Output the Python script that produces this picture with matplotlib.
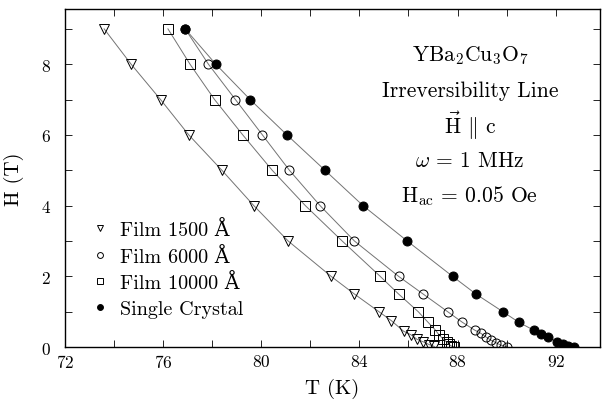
import numpy as np
import matplotlib
matplotlib.use('Agg')
import matplotlib.pyplot as plt
from matplotlib.ticker import MultipleLocator

plt.rcParams['font.family'] = ['cmr10', 'DejaVu Serif']
plt.rcParams['mathtext.fontset'] = 'cm'
plt.rcParams['axes.formatter.use_mathtext'] = True

# Film 1500 A
t_1500 = [73.6, 74.7, 75.9, 77.05, 78.4, 79.7, 81.1, 82.85, 83.8, 84.8, 85.3,
          85.8, 86.1, 86.35, 86.6, 86.85, 87.05]
h_1500 = [9, 8, 7, 6, 5, 4, 3, 2, 1.5, 1.0, 0.75, 0.45, 0.35, 0.22, 0.15, 0.07, 0.02]

# Film 6000 A
t_6000 = [76.9, 77.85, 78.95, 80.05, 81.15, 82.4, 83.8, 85.6, 86.6, 87.6, 88.2,
          88.7, 88.95, 89.15, 89.35, 89.55, 89.75, 90.0]
h_6000 = [9, 8, 7, 6, 5, 4, 3, 2, 1.5, 1.0, 0.7, 0.48, 0.39, 0.29, 0.2, 0.13, 0.06, 0.01]

# Film 10000 A
t_10000 = [76.2, 77.1, 78.1, 79.25, 80.45, 81.8, 83.3, 84.85, 85.6, 86.4, 86.8,
           87.1, 87.25, 87.4, 87.55, 87.65, 87.75, 87.85]
h_10000 = [9, 8, 7, 6, 5, 4, 3, 2, 1.5, 1.0, 0.7, 0.48, 0.34, 0.24, 0.15, 0.08, 0.03, 0.01]

# Single crystal
t_xtal = [76.9, 78.15, 79.55, 81.05, 82.6, 84.15, 85.95, 87.8, 88.75, 89.85, 90.5,
          91.1, 91.4, 91.7, 92.05, 92.3, 92.5, 92.75]
h_xtal = [9, 8, 7, 6, 5, 4, 3, 2, 1.5, 1.0, 0.7, 0.48, 0.37, 0.29, 0.15, 0.08, 0.04, 0.0]

series = [
    (t_1500, h_1500, 'v', 'none', 7.0, 'Film 1500 Å'),
    (t_6000, h_6000, 'o', 'none', 6.5, 'Film 6000 Å'),
    (t_10000, h_10000, 's', 'none', 6.5, 'Film 10000 Å'),
    (t_xtal, h_xtal, 'o', 'black', 6.5, 'Single Crystal'),
]

fig = plt.figure(figsize=(6.06, 4.02), dpi=100)
ax = fig.add_axes([0.107, 0.134, 0.883, 0.841])

for t, h, m, fc, ms, lab in series:
    ax.plot(t, h, '-', color='0.45', lw=0.7, zorder=1)
    ax.plot(t, h, ls='none', marker=m, ms=ms, mfc=fc, mec='black', mew=0.7,
            label=lab, zorder=2)

ax.set_xlim(72, 93.8)
ax.set_ylim(0, 9.56)
ax.xaxis.set_major_locator(MultipleLocator(4))
ax.xaxis.set_minor_locator(MultipleLocator(2))
ax.yaxis.set_major_locator(MultipleLocator(2))
ax.yaxis.set_minor_locator(MultipleLocator(1))
ax.tick_params(which='both', direction='in', top=True, right=True, labelsize=12.5)
ax.tick_params(which='both', length=5, width=0.6)
ax.tick_params(axis='y', pad=10)
ax.tick_params(axis='x', pad=4)
for s in ax.spines.values():
    s.set_linewidth(1.0)

ax.set_xlabel('T (K)', fontsize=15, labelpad=6)
ax.set_ylabel('H (T)', fontsize=15, labelpad=12)

txt = ['YBa$_2$Cu$_3$O$_7$', 'Irreversibility Line', r'$\vec{\rm H}$ $\|$ c',
       r'$\omega$ = 1 MHz', r'H$_{\rm ac}$ = 0.05 Oe']
for i, s in enumerate(txt):
    ax.text(0.757, 0.865 - i * 0.104, s, transform=ax.transAxes, ha='center',
            va='center', fontsize=15.5)

leg = ax.legend(loc='upper left', bbox_to_anchor=(0.035, 0.40), frameon=False,
                fontsize=14.5, markerscale=0.65, handlelength=0.8,
                handletextpad=0.6, labelspacing=0.38, borderaxespad=0.0)

fig.savefig('out.png', dpi=100)
